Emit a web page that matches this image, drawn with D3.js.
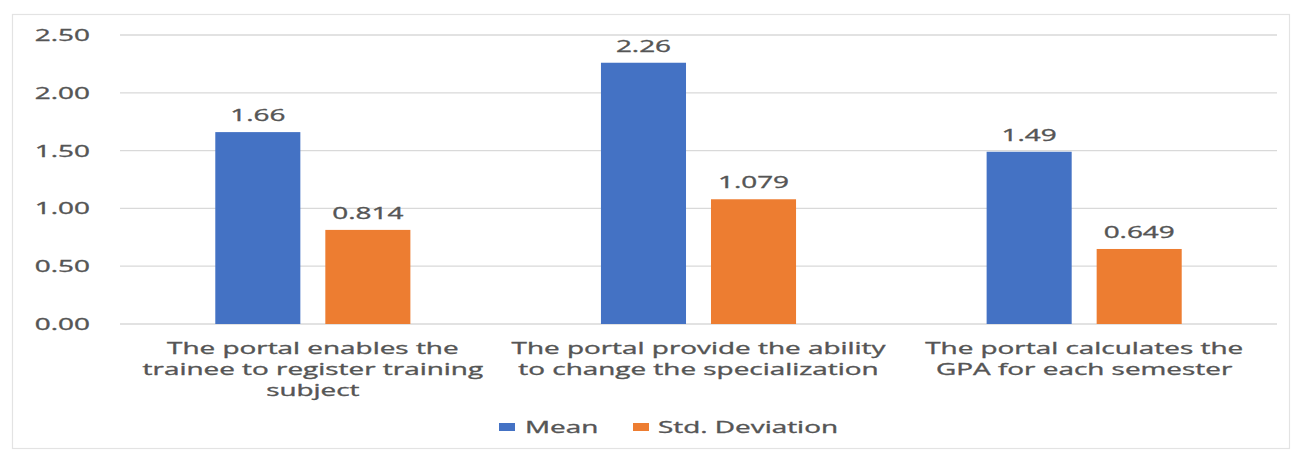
<!DOCTYPE html>
<html>
<head>
<meta charset="utf-8">
<script src="https://cdn.jsdelivr.net/npm/d3@7"></script>
<style>
  html, body { margin: 0; padding: 0; background: #fff; }
  svg { display: block; }
</style>
</head>
<body>
<svg id="chart" width="1305" height="450"></svg>
<script>
// Category labels ("\n" marks a line break in the axis label)
const categories = [
  "The portal enables the\ntrainee to register training\nsubject",
  "The portal provide the ability\nto change the specialization",
  "The portal calculates the\nGPA for each semester"
];
const seriesNames = ["Mean", "Std. Deviation"];
const meanValues = [1.66, 2.26, 1.49];
const stdValues = [0.814, 1.079, 0.649];
const meanLabels = ["1.66", "2.26", "1.49"];
const stdLabels = ["0.814", "1.079", "0.649"];
const yTicks = [0, 0.5, 1, 1.5, 2, 2.5];

const colors = { "Mean": "#4472C4", "Std. Deviation": "#ED7D31" };
const textColor = "#555555";
const FONT = "'Open Sans', 'Liberation Sans', sans-serif";
const FS = 16.5;   // font size
const SX = 1.69;   // horizontal stretch of the text

const svg = d3.select("#chart");
const plot = { left: 120, right: 1277, top: 35, bottom: 324 };

// outer chart frame
svg.append("rect")
  .attr("x", 12.5).attr("y", 14.5)
  .attr("width", 1277).attr("height", 434)
  .attr("fill", "#fff").attr("stroke", "#e3e3e3").attr("stroke-width", 1.2);

const y = d3.scaleLinear().domain([0, 2.5]).range([plot.bottom, plot.top]);
const x0 = d3.scaleBand().domain(categories).range([plot.left, plot.right]).padding(0);
const x1 = d3.scaleBand().domain(seriesNames).range([0, x0.bandwidth()])
  .paddingInner(0.227).paddingOuter(0.866);

// helper: stretched text placed at (x, y)
function stext(sel, x, yy, str, anchor) {
  return sel.append("text")
    .attr("transform", `translate(${x},${yy}) scale(${SX},1)`)
    .attr("text-anchor", anchor || "middle")
    .attr("font-family", FONT)
    .attr("font-size", FS)
    .attr("fill", textColor)
    .attr("stroke", textColor)
    .attr("stroke-width", 0.35)
    .text(str);
}

// gridlines
svg.append("g")
  .selectAll("line")
  .data(yTicks)
  .join("line")
  .attr("x1", plot.left).attr("x2", plot.right)
  .attr("y1", d => y(d)).attr("y2", d => y(d))
  .attr("stroke", "#d9d9d9").attr("stroke-width", 1.3);

// y tick labels
const yAxisG = svg.append("g");
yTicks.forEach(t => {
  stext(yAxisG, 90, y(t) + 6, d3.format(".2f")(t), "end");
});

// bars
const rows = categories.map((c, i) => ({
  cat: c,
  items: [
    { key: "Mean", value: meanValues[i], label: meanLabels[i] },
    { key: "Std. Deviation", value: stdValues[i], label: stdLabels[i] }
  ]
}));

const groups = svg.append("g").selectAll("g")
  .data(rows)
  .join("g")
  .attr("transform", d => `translate(${x0(d.cat)},0)`);

groups.selectAll("rect")
  .data(d => d.items)
  .join("rect")
  .attr("x", d => x1(d.key))
  .attr("width", x1.bandwidth())
  .attr("y", d => y(d.value))
  .attr("height", d => y(0) - y(d.value))
  .attr("fill", d => colors[d.key]);

// value labels
groups.each(function(d) {
  const g = d3.select(this);
  d.items.forEach(it => {
    stext(g, x1(it.key) + x1.bandwidth() / 2, y(it.value) - 11, it.label, "middle");
  });
});

// category labels
const catG = svg.append("g");
categories.forEach(c => {
  const lines = c.split("\n");
  const cx = x0(c) + x0.bandwidth() / 2;
  lines.forEach((ln, j) => {
    stext(catG, cx, 354 + j * 21, ln, "middle");
  });
});

// legend
const legend = svg.append("g");
const legendItems = [
  { key: "Mean", sx: 499, tx: 525 },
  { key: "Std. Deviation", sx: 633, tx: 658 }
];
legendItems.forEach(it => {
  legend.append("rect")
    .attr("x", it.sx).attr("y", 423)
    .attr("width", 16).attr("height", 8)
    .attr("fill", colors[it.key]);
  stext(legend, it.tx, 433, it.key, "start");
});
</script>
</body>
</html>
